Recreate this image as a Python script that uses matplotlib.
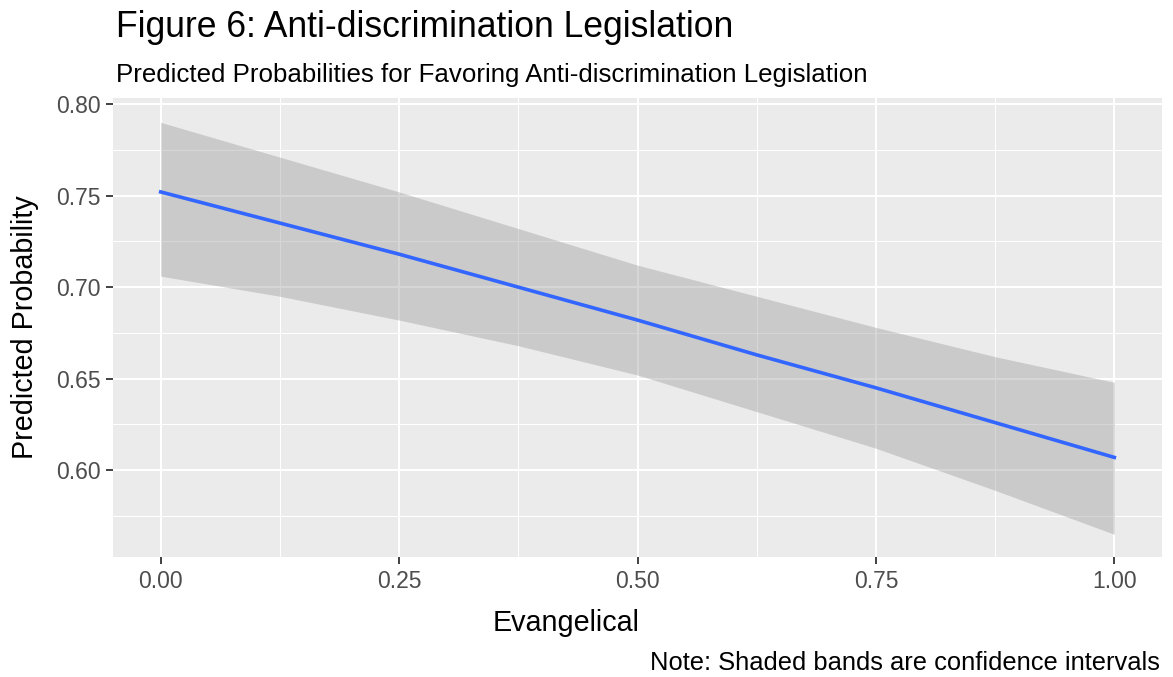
import matplotlib
matplotlib.use("Agg")
import matplotlib.pyplot as plt
from matplotlib.ticker import MultipleLocator

plt.rcParams['font.family'] = ['Liberation Sans', 'DejaVu Sans']

# predicted probabilities
evangelical = [0.0, 0.125, 0.25, 0.375, 0.5, 0.625, 0.75, 0.875, 1.0]
fit = [0.752, 0.735, 0.718, 0.700, 0.682, 0.663, 0.645, 0.626, 0.607]
upper = [0.790, 0.771, 0.752, 0.732, 0.712, 0.695, 0.678, 0.662, 0.648]
lower = [0.706, 0.695, 0.682, 0.668, 0.652, 0.632, 0.612, 0.589, 0.565]

x_ticks = [0.0, 0.25, 0.5, 0.75, 1.0]
x_labels = ['0.00', '0.25', '0.50', '0.75', '1.00']
y_ticks = [0.60, 0.65, 0.70, 0.75, 0.80]
y_labels = ['0.60', '0.65', '0.70', '0.75', '0.80']

W, H = 1173, 677
fig = plt.figure(figsize=(W / 100, H / 100), dpi=100)
fig.patch.set_facecolor('white')

# panel placed in pixel terms
left, top, right, bottom = 113, 98, 1162, 557
ax = fig.add_axes([left / W, 1 - bottom / H, (right - left) / W, (bottom - top) / H])
ax.set_facecolor('#EBEBEB')
for s in ax.spines.values():
    s.set_visible(False)

ax.fill_between(evangelical, lower, upper, color='#999999', alpha=0.4, linewidth=0, zorder=2)
ax.plot(evangelical, fit, color='#3366FF', linewidth=2.6, zorder=3)

ax.set_xlim(-0.05, 1.05)
ax.set_ylim(0.5526, 0.8033)
ax.set_xticks(x_ticks)
ax.set_xticklabels(x_labels)
ax.set_yticks(y_ticks)
ax.set_yticklabels(y_labels)
ax.xaxis.set_minor_locator(MultipleLocator(0.125))
ax.yaxis.set_minor_locator(MultipleLocator(0.025))

ax.grid(True, which='major', color='white', linewidth=1.5, zorder=1)
ax.grid(True, which='minor', color='white', linewidth=0.75, zorder=1)
ax.set_axisbelow(True)

ax.tick_params(which='major', length=5, width=1.3, color='#333333',
               labelsize=16.5, labelcolor='#4D4D4D', pad=4)
ax.tick_params(which='minor', length=0)

# titles and labels
fig.text(116 / W, 1 - 37 / H, 'Figure 6: Anti-discrimination Legislation',
         fontsize=25.6, color='black', ha='left', va='baseline')
fig.text(116 / W, 1 - 82 / H,
         'Predicted Probabilities for Favoring Anti-discrimination Legislation',
         fontsize=18.6, color='black', ha='left', va='baseline')
fig.text(566 / W, 1 - 631 / H, 'Evangelical', fontsize=20.7, color='black',
         ha='center', va='baseline')
fig.text(33 / W, 1 - 327 / H, 'Predicted Probability', fontsize=20.7, color='black',
         ha='center', va='baseline', rotation=90, rotation_mode='anchor')
fig.text(1160 / W, 1 - 670 / H, 'Note: Shaded bands are confidence intervals',
         fontsize=18.4, color='black', ha='right', va='baseline')

fig.savefig('out.png', dpi=100)
